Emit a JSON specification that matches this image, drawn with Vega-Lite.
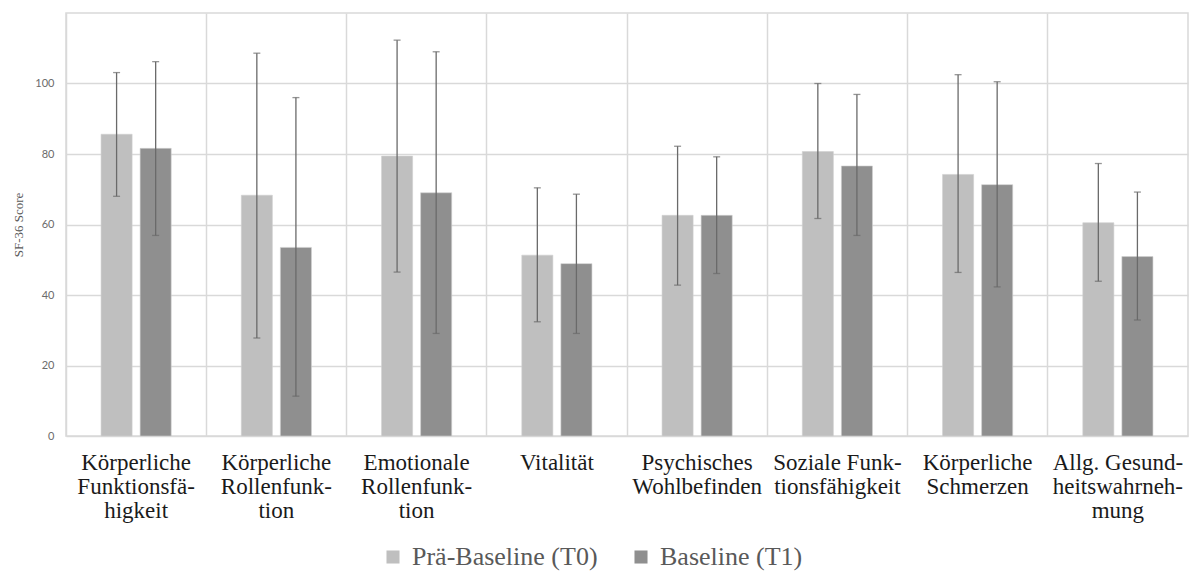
{
  "$schema": "https://vega.github.io/schema/vega-lite/v6.json",
  "width": 1196,
  "height": 572,
  "autosize": {"type": "fit", "contains": "padding"},
  "padding": {"left": 12, "right": 8, "top": 13, "bottom": 50},
  "background": "white",
  "config": {
    "view": {"stroke": "#d9d9d9", "strokeWidth": 1.5},
    "axis": {"gridColor": "#d9d9d9", "gridWidth": 1.5, "domain": false, "ticks": false},
    "axisX": {"labelFont": "Liberation Serif, Times New Roman, serif", "labelFontSize": 23, "labelColor": "#1a1a1a"}
  },
  "data": {
    "values": [
      {"cat": "Körperliche|Funktionsfä-|higkeit", "group": "Prä-Baseline (T0)", "mean": 85.6, "lo": 68.0, "hi": 103.1},
      {"cat": "Körperliche|Funktionsfä-|higkeit", "group": "Baseline (T1)", "mean": 81.6, "lo": 56.9, "hi": 106.2},
      {"cat": "Körperliche|Rollenfunk-|tion", "group": "Prä-Baseline (T0)", "mean": 68.3, "lo": 27.8, "hi": 108.6},
      {"cat": "Körperliche|Rollenfunk-|tion", "group": "Baseline (T1)", "mean": 53.5, "lo": 11.3, "hi": 96.0},
      {"cat": "Emotionale|Rollenfunk-|tion", "group": "Prä-Baseline (T0)", "mean": 79.4, "lo": 46.5, "hi": 112.3},
      {"cat": "Emotionale|Rollenfunk-|tion", "group": "Baseline (T1)", "mean": 69.0, "lo": 29.1, "hi": 109.0},
      {"cat": "Vitalität", "group": "Prä-Baseline (T0)", "mean": 51.3, "lo": 32.4, "hi": 70.4},
      {"cat": "Vitalität", "group": "Baseline (T1)", "mean": 48.9, "lo": 29.1, "hi": 68.6},
      {"cat": "Psychisches|Wohlbefinden", "group": "Prä-Baseline (T0)", "mean": 62.6, "lo": 42.8, "hi": 82.2},
      {"cat": "Psychisches|Wohlbefinden", "group": "Baseline (T1)", "mean": 62.6, "lo": 46.1, "hi": 79.2},
      {"cat": "Soziale Funk-|tionsfähigkeit", "group": "Prä-Baseline (T0)", "mean": 80.7, "lo": 61.7, "hi": 100.0},
      {"cat": "Soziale Funk-|tionsfähigkeit", "group": "Baseline (T1)", "mean": 76.6, "lo": 56.9, "hi": 96.9},
      {"cat": "Körperliche|Schmerzen", "group": "Prä-Baseline (T0)", "mean": 74.2, "lo": 46.4, "hi": 102.5},
      {"cat": "Körperliche|Schmerzen", "group": "Baseline (T1)", "mean": 71.3, "lo": 42.3, "hi": 100.5},
      {"cat": "Allg. Gesund-|heitswahrneh-|mung", "group": "Prä-Baseline (T0)", "mean": 60.5, "lo": 43.9, "hi": 77.3},
      {"cat": "Allg. Gesund-|heitswahrneh-|mung", "group": "Baseline (T1)", "mean": 50.9, "lo": 32.9, "hi": 69.2}
    ]
  },
  "encoding": {
    "x": {
      "field": "cat", "type": "nominal", "sort": null,
      "scale": {"paddingInner": 0, "paddingOuter": 0},
      "axis": {
        "title": null, "labelAngle": 0, "grid": true, "bandPosition": 0,
        "labelExpr": "split(datum.label, '|')",
        "labelFont": "Liberation Serif, Times New Roman, serif", "labelFontSize": 23, "labelColor": "#1a1a1a",
        "labelLineHeight": 24, "labelPadding": 15, "labelBaseline": "top", "labelLimit": 200
      }
    },
    "xOffset": {
      "field": "group", "type": "nominal",
      "scale": {"domain": ["Prä-Baseline (T0)", "Baseline (T1)"], "paddingInner": 0.205, "paddingOuter": 0.897}
    }
  },
  "layer": [
    {
      "mark": {"type": "bar", "stroke": "#d0d0d0", "strokeWidth": 0.6},
      "encoding": {
        "y": {
          "field": "mean", "type": "quantitative",
          "scale": {"domain": [0, 120], "nice": false},
          "axis": {
            "title": "SF-36 Score", "values": [0, 20, 40, 60, 80, 100],
            "labelFont": "Lato", "labelFontSize": 11, "labelColor": "#6b6b6b", "labelPadding": 12,
            "titleFont": "Liberation Serif, Times New Roman, serif", "titleFontSize": 13, "titleFontWeight": "normal", "titleColor": "#595959", "titlePadding": 9
          }
        },
        "color": {
          "field": "group", "type": "nominal",
          "scale": {"domain": ["Prä-Baseline (T0)", "Baseline (T1)"], "range": ["#bfbfbf", "#8f8f8f"]},
          "legend": {
            "title": null, "orient": "none", "direction": "horizontal",
            "legendX": 314, "legendY": 531,
            "symbolType": "square", "symbolSize": 170, "symbolStrokeWidth": 0,
            "labelFont": "Liberation Serif, Times New Roman, serif", "labelFontSize": 26, "labelColor": "#595959",
            "labelOffset": 6, "columnPadding": 30, "labelLimit": 400
          }
        }
      }
    },
    {
      "mark": {"type": "rule", "color": "#6a6a6a", "strokeWidth": 1.3},
      "encoding": {
        "y": {"field": "lo", "type": "quantitative"},
        "y2": {"field": "hi"}
      }
    },
    {
      "mark": {"type": "tick", "color": "#6a6a6a", "thickness": 1.3, "size": 7, "orient": "horizontal"},
      "encoding": {"y": {"field": "lo", "type": "quantitative"}}
    },
    {
      "mark": {"type": "tick", "color": "#6a6a6a", "thickness": 1.3, "size": 7, "orient": "horizontal"},
      "encoding": {"y": {"field": "hi", "type": "quantitative"}}
    }
  ]
}
